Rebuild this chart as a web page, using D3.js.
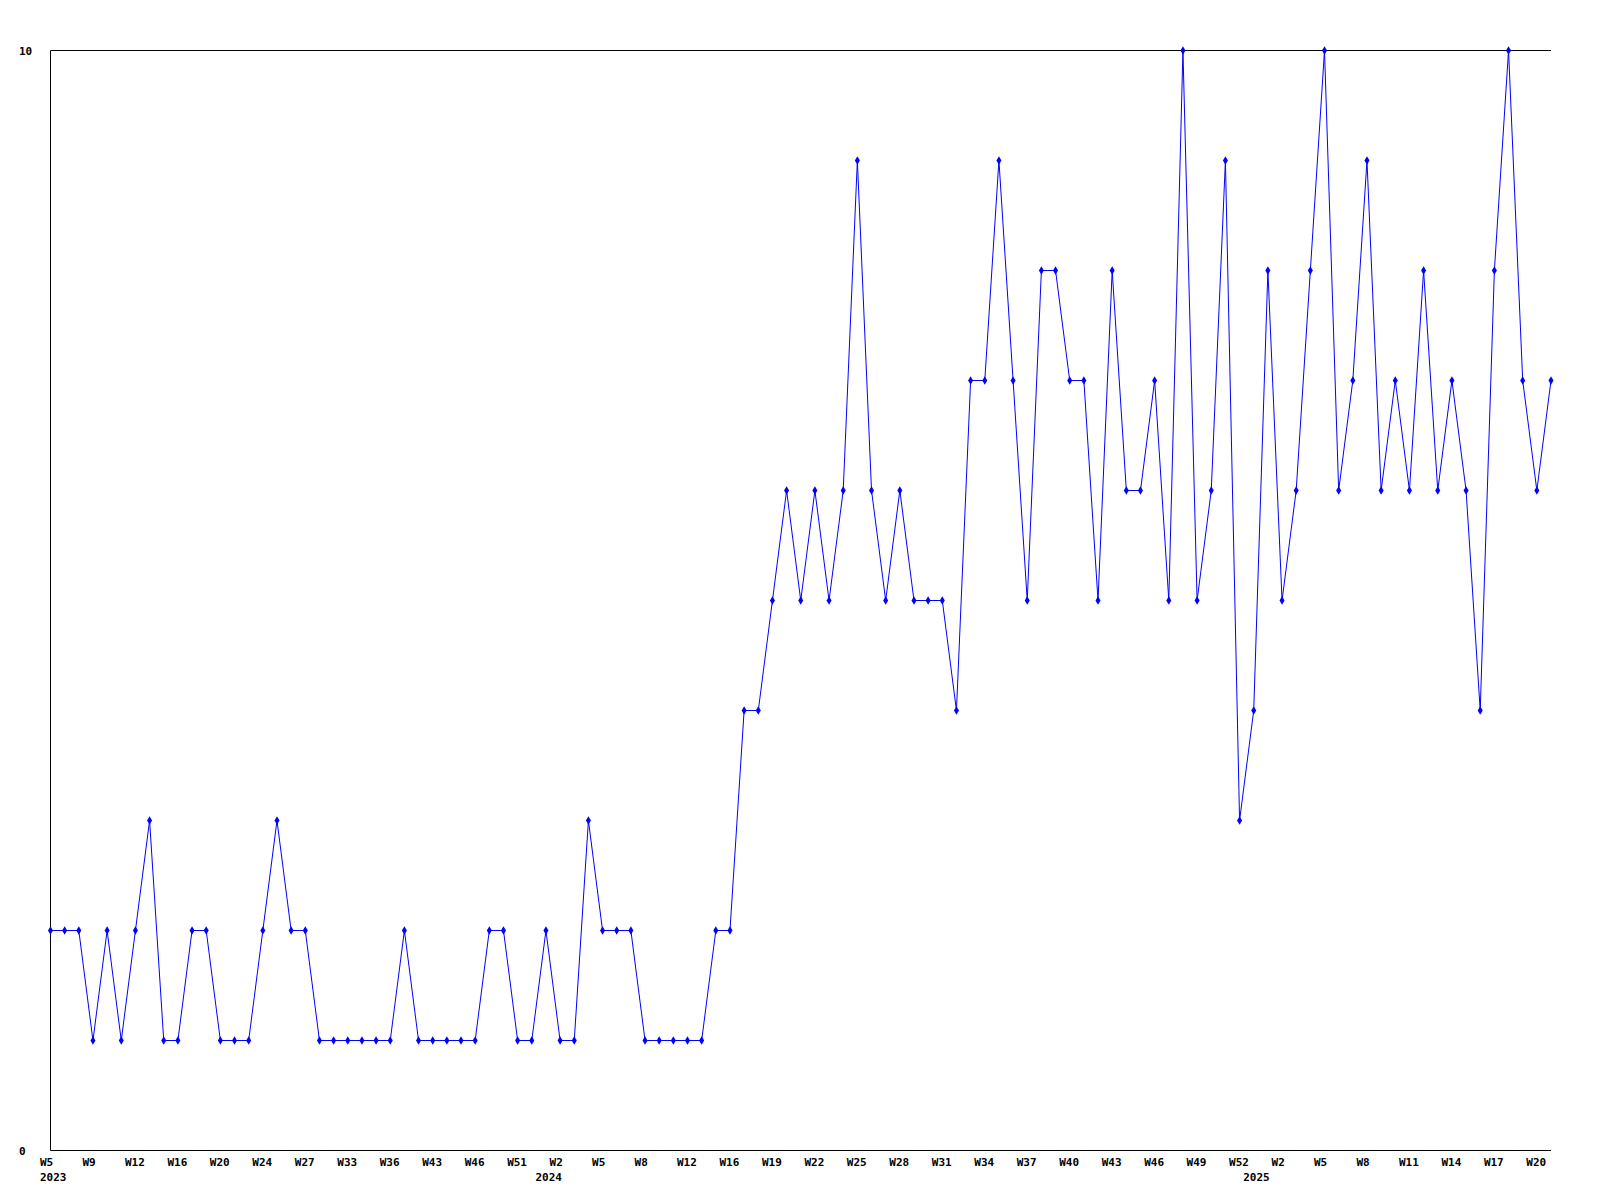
<!DOCTYPE html>
<html>
<head>
<meta charset="utf-8">
<script src="https://cdn.jsdelivr.net/npm/d3@7"></script>
<style>
  html, body { margin: 0; padding: 0; background: #ffffff; }
  svg { display: block; }
  text { font-family: "DejaVu Sans Mono", "Liberation Mono", monospace; font-weight: bold; font-size: 11px; fill: #000; }
</style>
</head>
<body>
<svg id="chart" width="1600" height="1200"></svg>
<script>
// Week labels for each category (weeks with data only)
const weeks = [
  "W5","W6","W8","W9","W10","W11","W12","W13","W15","W16",
  "W17","W19","W20","W21","W22","W24","W25","W26","W27","W29",
  "W31","W33","W34","W35","W36","W38","W40","W43","W44","W45",
  "W46","W48","W50","W51","W52",
  "W1","W2","W3","W4","W5","W6","W7","W8","W9","W11",
  "W12","W13","W15","W16","W17","W18","W19","W20","W21","W22",
  "W23","W24","W25","W26","W27","W28","W29","W30","W31","W32",
  "W33","W34","W35","W36","W37","W38","W39","W40","W41","W42",
  "W43","W44","W45","W46","W47","W48","W49","W50","W51","W52",
  "W0","W1","W2","W3","W4","W5","W6","W7","W8","W9",
  "W10","W11","W12","W13","W14","W15","W16","W17","W18","W19",
  "W20","W21"
];
// Year of each category
const years = [].concat(
  new Array(35).fill("2023"),
  new Array(50).fill("2024"),
  new Array(22).fill("2025")
);
// Values per week
const values = [
  2,2,2,1,2,1,2,3,1,1,
  2,2,1,1,1,2,3,2,2,1,
  1,1,1,1,1,2,1,1,1,1,
  1,2,2,1,1,2,1,1,3,2,
  2,2,1,1,1,1,1,2,2,4,
  4,5,6,5,6,5,6,9,6,5,
  6,5,5,5,4,7,7,9,7,5,
  8,8,7,7,5,8,6,6,7,5,
  10,5,6,9,3,4,8,5,6,8,
  10,6,7,9,6,7,6,8,6,7,
  6,4,8,10,7,6,7
];
const yTicks = [0, 10];
const labelEvery = 3;

(function () {
  const data = values.map((v, i) => ({ i, week: weeks[i], year: years[i], v }));

  const svg = d3.select("#chart");
  const pLeft = 50.5, pRight = 1551, pTop = 50.5, pBottom = 1150.5;

  const x = d3.scalePoint().domain(data.map(d => d.i)).range([pLeft, pRight]).padding(0);
  const y = d3.scaleLinear().domain([0, 10]).range([pBottom, pTop]);

  // frame: left, top, bottom
  svg.append("line").attr("x1", pLeft).attr("x2", pLeft).attr("y1", pTop).attr("y2", pBottom)
    .attr("stroke", "#000").attr("stroke-width", 1);
  svg.append("line").attr("x1", pLeft).attr("x2", pRight).attr("y1", pTop).attr("y2", pTop)
    .attr("stroke", "#000").attr("stroke-width", 1);
  svg.append("line").attr("x1", pLeft).attr("x2", pRight).attr("y1", pBottom).attr("y2", pBottom)
    .attr("stroke", "#000").attr("stroke-width", 1);

  // y labels
  svg.selectAll("text.ylab").data(yTicks).enter().append("text")
    .attr("class", "ylab")
    .attr("x", 19)
    .attr("y", d => y(d) + 4)
    .attr("text-anchor", "start")
    .text(d => d);

  // x week labels
  svg.selectAll("text.xlab").data(data.filter(d => d.i % labelEvery === 0)).enter().append("text")
    .attr("class", "xlab")
    .attr("x", d => x(d.i) - 10.5)
    .attr("y", 1166)
    .attr("text-anchor", "start")
    .text(d => d.week);

  // year labels at first category of each year
  const yearStarts = data.filter((d, k) => k === 0 || d.year !== data[k - 1].year);
  svg.selectAll("text.yearlab").data(yearStarts).enter().append("text")
    .attr("class", "yearlab")
    .attr("x", d => x(d.i) - 10.5)
    .attr("y", 1181)
    .attr("text-anchor", "start")
    .text(d => d.year);

  // line
  const line = d3.line().x(d => x(d.i)).y(d => y(d.v));
  svg.append("path").datum(data)
    .attr("d", line)
    .attr("fill", "none")
    .attr("stroke", "#0000ff")
    .attr("stroke-width", 1);

  // markers
  const sym = d3.symbol().type(d3.symbolDiamond).size(22);
  svg.selectAll("path.mk").data(data).enter().append("path")
    .attr("class", "mk")
    .attr("d", sym)
    .attr("transform", d => `translate(${x(d.i)},${y(d.v)})`)
    .attr("fill", "#0000ff");
})();
</script>
</body>
</html>
